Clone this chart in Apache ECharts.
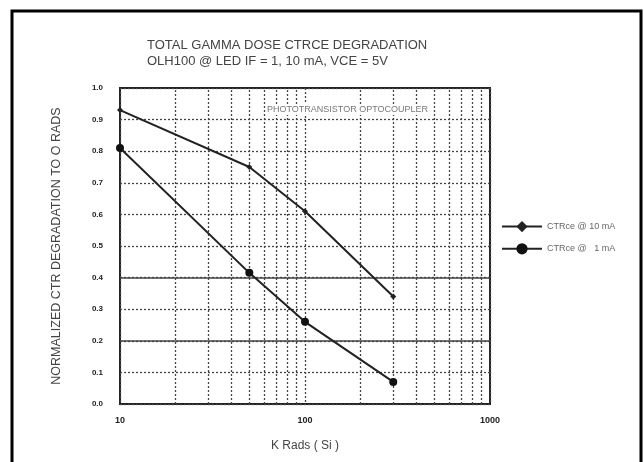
<!DOCTYPE html>
<html><head><meta charset="utf-8">
<script src="https://cdn.jsdelivr.net/npm/echarts@6/dist/echarts.min.js"></script>
<style>html,body{margin:0;padding:0;background:#fff}#c{width:644px;height:462px}</style>
</head><body><div id="c"></div>
<script>
const doseKRads = [10, 50, 100, 300];
const ctr10mA = [0.93, 0.75, 0.61, 0.34];
const ctr1mA = [0.81, 0.415, 0.26, 0.07];
const minorXGrid = [20,30,40,50,60,70,80,90,200,300,400,500,600,700,800,900];
const solidYGrid = [0.4, 0.2];
const seriesNames = ['CTRce @ 10 mA', 'CTRce @   1 mA'];

const ff = 'Liberation Sans, Arial, sans-serif';
const chart = echarts.init(document.getElementById('c'), null, {renderer:'canvas'});
const dotted = {color:'#444', width:1.3, type:[2,2]};
chart.setOption({
  animation:false,
  backgroundColor:'#fff',
  title:{
    text:'TOTAL GAMMA DOSE CTRCE DEGRADATION\nOLH100 @ LED IF = 1, 10 mA, VCE = 5V',
    left:142, top:32,
    textStyle:{fontFamily:ff, fontSize:13, fontWeight:'normal', color:'#444', lineHeight:16}
  },
  legend:{
    orient:'vertical', left:496, top:216, itemWidth:40, itemHeight:14, itemGap:11,
    textStyle:{fontFamily:ff, fontSize:9, color:'#666'},
    data:seriesNames
  },
  grid:{left:120, top:88, right:154, bottom:58, show:true, borderColor:'#222', borderWidth:2, backgroundColor:'transparent'},
  xAxis:{
    type:'log', logBase:10, min:10, max:1000,
    name:'K Rads ( Si )', nameLocation:'middle', nameGap:36,
    nameTextStyle:{fontFamily:ff, fontSize:12, color:'#444'},
    axisLine:{show:false}, axisTick:{show:false},
    axisLabel:{fontFamily:ff, fontSize:9, fontWeight:'bold', color:'#222', margin:12, formatter:v=>String(Math.round(v))},
    splitLine:{show:true, lineStyle:dotted}
  },
  yAxis:{
    type:'value', min:0, max:1, interval:0.1,
    name:'NORMALIZED CTR DEGRADATION TO O RADS', nameLocation:'middle', nameGap:57,
    nameTextStyle:{fontFamily:ff, fontSize:12.5, color:'#444'},
    axisLine:{show:false}, axisTick:{show:false},
    axisLabel:{fontFamily:ff, fontSize:8, fontWeight:'bold', color:'#222', margin:17, formatter:v=>v.toFixed(1)},
    splitLine:{show:true, lineStyle:dotted}
  },
  graphic:[
    {type:'polyline', shape:{points:[[12,470],[12,11],[641,11],[641,470]]}, style:{stroke:'#000', lineWidth:3, fill:null}, z:100},
    {type:'text', left:266, top:104, style:{text:'PHOTOTRANSISTOR OPTOCOUPLER', font:'9px '+ff, fill:'#777', backgroundColor:'#fff', padding:[1,1]}, z:100}
  ],
  series:[
    {name:seriesNames[0], type:'line', data:doseKRads.map((x,i)=>[x,ctr10mA[i]]),
     symbol:'diamond', symbolSize:6, showAllSymbol:true,
     lineStyle:{color:'#222', width:2}, itemStyle:{color:'#222'}, z:5,
     markLine:{silent:true, symbol:'none', label:{show:false},
       lineStyle:dotted, data:minorXGrid.map(v=>({xAxis:v}))}},
    {name:seriesNames[1], type:'line', data:doseKRads.map((x,i)=>[x,ctr1mA[i]]),
     symbol:'circle', symbolSize:8, showAllSymbol:true,
     lineStyle:{color:'#222', width:2}, itemStyle:{color:'#111'}, z:5,
     markLine:{silent:true, symbol:'none', label:{show:false},
       lineStyle:{color:'#444', width:1.5, type:'solid'}, data:solidYGrid.map(v=>({yAxis:v}))}}
  ]
});
</script></body></html>
